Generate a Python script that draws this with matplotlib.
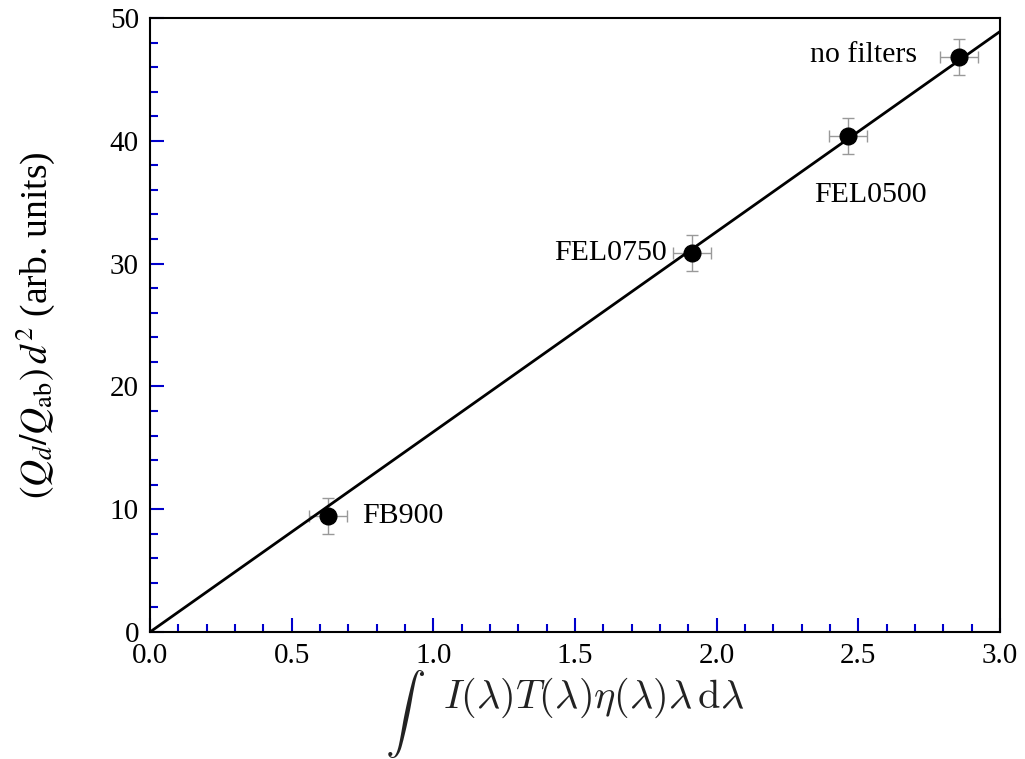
import numpy as np
import matplotlib.pyplot as plt
from matplotlib.ticker import MultipleLocator

# data
names = ['FB900', 'FEL0750', 'FEL0500', 'no filters']
x_int = [0.628, 1.913, 2.464, 2.856]
y_q = [9.45, 30.86, 40.39, 46.82]
x_err = [0.067, 0.067, 0.067, 0.067]
y_err = [1.5, 1.5, 1.5, 1.5]
slope = 16.3

plt.rcParams['font.family'] = 'Liberation Serif'
plt.rcParams['mathtext.fontset'] = 'stix'

fig = plt.figure(figsize=(10.25, 7.59), dpi=100)
ax = fig.add_axes([150/1025, 1-632/759, 850/1025, 614/759])

xx = np.array([0.0, 3.0])
ax.plot(xx, slope*xx, color='black', lw=2, zorder=2)

ax.errorbar(x_int, y_q, xerr=x_err, yerr=y_err, fmt='none', ecolor='#999999',
            elinewidth=1, capsize=4, capthick=1, zorder=1)
ax.plot(x_int, y_q, 'o', color='black', ms=12, zorder=3)

# labels next to points
fs = 21.5
ax.text(x_int[0]+0.12, y_q[0], names[0], fontsize=fs, va='center', ha='left')
ax.text(x_int[1]-0.09, y_q[1], names[1], fontsize=fs, va='center', ha='right')
ax.text(x_int[2]+0.08, y_q[2]-4.8, names[2], fontsize=fs, va='center', ha='center')
ax.text(x_int[3]-0.15, y_q[3]+0.2, names[3], fontsize=fs, va='center', ha='right')

ax.set_xlim(0, 3.0)
ax.set_ylim(0, 50)
ax.xaxis.set_major_locator(MultipleLocator(0.5))
ax.xaxis.set_minor_locator(MultipleLocator(0.1))
ax.yaxis.set_major_locator(MultipleLocator(10))
ax.yaxis.set_minor_locator(MultipleLocator(2))
ax.xaxis.set_major_formatter(plt.FormatStrFormatter('%.1f'))
ax.tick_params(which='both', direction='in', color='#0000cc', width=1.5,
               labelsize=21, top=False, right=False)
ax.tick_params(which='major', length=10, pad=8)
ax.tick_params(which='minor', length=6)
for s in ax.spines.values():
    s.set_linewidth(1.5)

ax.set_ylabel(r'$(Q_d/Q_{\rm ab})\,d^2$ (arb. units)', fontsize=27, labelpad=38)

# x label: integral sign drawn on its own so it can sit a bit lower
fig.text(405/1025, 1-714/759, r'$\int$', fontsize=29, math_fontfamily='cm',
         color='#222222', ha='center', va='center')
fig.text(443/1025, 1-698/759, r'$I(\lambda)T(\lambda)\eta(\lambda)\lambda\,\mathrm{d}\lambda$',
         fontsize=29, math_fontfamily='cm', color='#222222', ha='left', va='center')

fig.savefig('out.png', dpi=100)
